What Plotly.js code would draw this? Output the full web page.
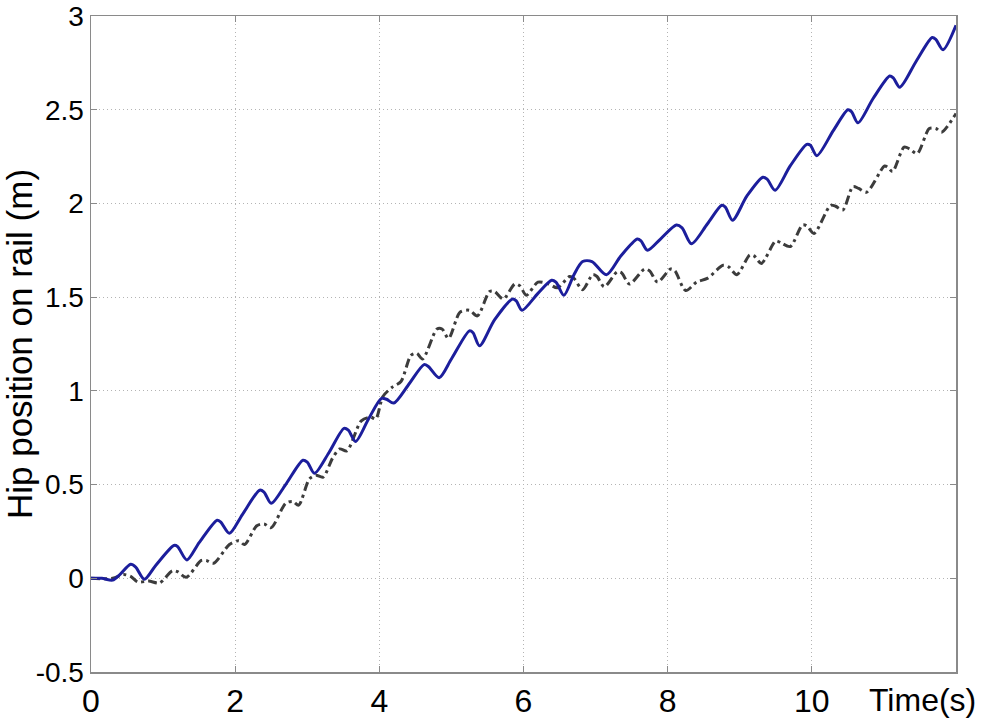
<!DOCTYPE html>
<html>
<head>
<meta charset="utf-8">
<script src="https://cdn.plot.ly/plotly-3.0.1.min.js"></script>
<style>html,body{margin:0;padding:0;background:#fff;}#chart{width:981px;height:725px;}</style>
</head>
<body>
<div id="chart"></div>
<script>
// Solid blue series (time s, hip position m)
const blueT = [0,0.15,0.3,0.4,0.55,0.62,0.74,0.9,1.15,1.2,1.33,1.5,1.75,1.8,1.92,2.1,2.34,2.4,2.5,2.7,2.94,3.0,3.1,3.3,3.51,3.57,3.67,3.85,4.03,4.1,4.2,4.4,4.62,4.68,4.83,5.0,5.25,5.3,5.39,5.6,5.85,5.9,5.98,6.2,6.39,6.45,6.56,6.7,6.82,6.95,7.15,7.35,7.58,7.63,7.72,7.9,8.12,8.2,8.33,8.55,8.75,8.8,8.9,9.1,9.32,9.38,9.49,9.7,9.93,9.98,10.07,10.3,10.5,10.55,10.64,10.85,11.08,11.13,11.22,11.45,11.67,11.72,11.82,12.0];
const blueY = [0,0.0,-0.01,0.02,0.075,0.06,-0.005,0.07,0.175,0.17,0.098,0.19,0.31,0.3,0.24,0.34,0.47,0.46,0.40,0.50,0.63,0.62,0.56,0.67,0.80,0.79,0.73,0.85,0.96,0.955,0.935,1.03,1.14,1.13,1.07,1.17,1.32,1.31,1.24,1.38,1.49,1.48,1.43,1.52,1.59,1.58,1.51,1.62,1.69,1.69,1.62,1.72,1.81,1.80,1.75,1.81,1.885,1.87,1.785,1.89,1.99,1.98,1.91,2.04,2.14,2.13,2.07,2.2,2.315,2.31,2.255,2.39,2.50,2.49,2.43,2.56,2.68,2.67,2.62,2.76,2.885,2.875,2.82,2.95];
// Dash-dot gray series
const grayT = [0,0.3,0.45,0.55,0.65,0.8,0.95,1.13,1.2,1.32,1.53,1.6,1.7,1.92,2.05,2.13,2.3,2.4,2.5,2.7,2.8,2.88,3.03,3.12,3.22,3.35,3.45,3.55,3.75,3.88,3.95,4.05,4.18,4.3,4.44,4.52,4.6,4.8,4.87,4.96,5.12,5.25,5.36,5.53,5.6,5.72,5.88,5.95,6.04,6.2,6.35,6.47,6.64,6.7,6.82,6.96,7.02,7.12,7.3,7.36,7.47,7.68,7.75,7.86,8.04,8.1,8.25,8.4,8.55,8.77,8.85,8.96,9.14,9.2,9.3,9.5,9.57,9.7,9.87,9.93,10.03,10.26,10.33,10.43,10.57,10.65,10.76,11.01,11.06,11.12,11.28,11.36,11.46,11.63,11.72,11.8,12.0];
const grayY = [0,0.0,0.02,0.01,-0.02,-0.015,-0.025,0.04,0.035,0.005,0.095,0.095,0.08,0.18,0.2,0.18,0.28,0.29,0.27,0.4,0.41,0.39,0.53,0.55,0.54,0.64,0.69,0.68,0.84,0.86,0.85,0.97,1.02,1.05,1.19,1.2,1.17,1.33,1.33,1.28,1.42,1.43,1.40,1.53,1.53,1.49,1.57,1.56,1.51,1.58,1.57,1.55,1.61,1.6,1.54,1.62,1.61,1.555,1.635,1.63,1.57,1.65,1.64,1.58,1.65,1.64,1.535,1.58,1.6,1.67,1.66,1.62,1.725,1.72,1.68,1.80,1.79,1.77,1.885,1.88,1.84,1.99,1.985,1.965,2.09,2.08,2.06,2.2,2.19,2.17,2.3,2.29,2.265,2.4,2.4,2.38,2.48];
const xTicks = [0,2,4,6,8,10];
const xTickText = ['0','2','4','6','8','10'];
const yTicks = [-0.5,0,0.5,1,1.5,2,2.5,3];
const yTickText = ['-0.5','0','0.5','1','1.5','2','2.5','3'];

const traces = [
  {x: grayT, y: grayY, type: 'scatter', mode: 'lines',
   line: {color: '#3c3c3c', width: 3, dash: '9px,4px,3px,4px', shape: 'spline', smoothing: 0.8}, hoverinfo: 'skip'},
  {x: blueT, y: blueY, type: 'scatter', mode: 'lines',
   line: {color: '#1c1e9c', width: 3, shape: 'spline', smoothing: 0.8}, hoverinfo: 'skip'}
];

const layout = {
  width: 981, height: 725,
  margin: {l: 91, r: 25, t: 16, b: 53},
  paper_bgcolor: '#fff', plot_bgcolor: '#fff',
  showlegend: false,
  font: {family: 'Liberation Sans, Arial, sans-serif', color: '#000'},
  xaxis: {
    range: [0, 12], tickvals: xTicks, ticktext: xTickText,
    showgrid: true, gridcolor: '#b4b4b4', griddash: '1px,3px', gridwidth: 1.2,
    zeroline: false, showline: true, linecolor: '#8a8a8a', linewidth: 1.5, mirror: 'ticks',
    ticks: 'inside', ticklen: 6, tickcolor: '#8a8a8a',
    tickfont: {size: 32}, ticklabeloverflow: 'allow',
    automargin: false
  },
  yaxis: {
    range: [-0.5, 3], tickvals: yTicks, ticktext: yTickText,
    showgrid: true, gridcolor: '#b4b4b4', griddash: '1px,3px', gridwidth: 1.2,
    zeroline: false, showline: true, linecolor: '#8a8a8a', linewidth: 1.5, mirror: 'ticks',
    ticks: 'inside', ticklen: 6, tickcolor: '#8a8a8a',
    tickfont: {size: 28}, ticklabeloverflow: 'allow',
    title: {text: 'Hip position on rail (m)', font: {size: 35}, standoff: 7},
    automargin: false
  },
  annotations: [
    {text: 'Time(s)', xref: 'paper', yref: 'paper', x: 1.0254, y: 0, yshift: -28,
     xanchor: 'right', yanchor: 'middle', showarrow: false,
     font: {size: 32, color: '#000'}}
  ]
};

Plotly.newPlot('chart', traces, layout, {staticPlot: true, displayModeBar: false});
</script>
</body>
</html>
